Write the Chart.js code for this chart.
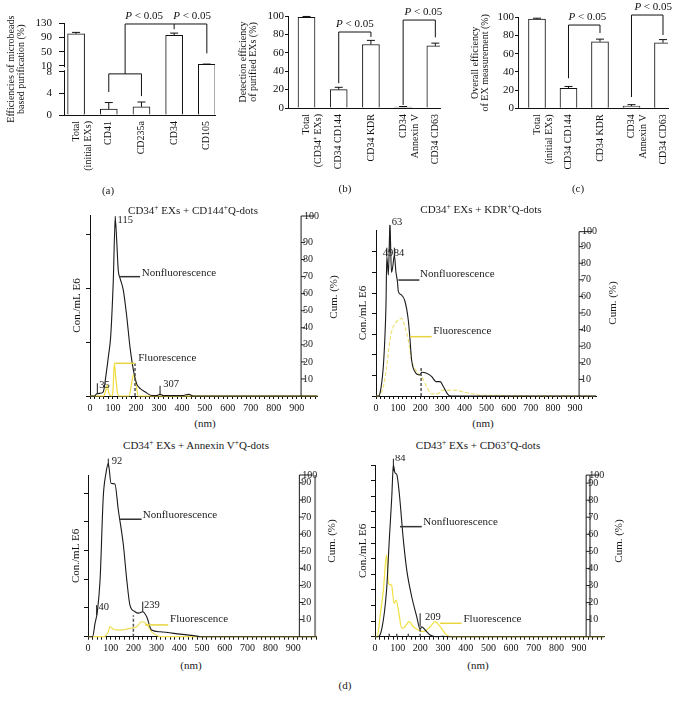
<!DOCTYPE html>
<html>
<head>
<meta charset="utf-8">
<title>EX purification and size distribution</title>
<script src="https://cdn.jsdelivr.net/npm/chart.js@4.4.1/dist/chart.umd.min.js"></script>
<style>
  html, body { margin: 0; padding: 0; background: #fff; }
  #wrap { position: relative; width: 695px; height: 708px; overflow: hidden;
          font-family: 'Liberation Serif', 'Times New Roman', serif; color: #1a1a1a; }
  #wrap canvas { position: absolute; }
  .note { position: absolute; white-space: nowrap; font-size: 11px; line-height: 1;
          transform: translate(-50%, -50%); }
  .note.rot { transform: translate(-50%, -50%) rotate(-90deg); }
  .note sup { font-size: 7.5px; line-height: 0; vertical-align: 4px; }
</style>
</head>
<body>
<div id="wrap"></div>
<script>
const FONT = "'Liberation Serif', 'Times New Roman', serif";
Chart.defaults.font.family = FONT;
Chart.defaults.color = '#111';

// ---- (a) microbead purification (broken y axis) ----
const aLabels = [['Total', '(initial EXs)'], 'CD41', 'CD235a', 'CD34', 'CD105'];
const aValues = [100.5, 1.1, 1.5, 96, 13.7];
const aErrors = [4, 1.2, 0.9, 6.5, 1];
const aTicks = [0, 4, 8, 10, 50, 90, 130];

// ---- (b) detection efficiency of purified EXs ----
const bLabels = [['Total', '(CD34⁺ EXs)'], 'CD34 CD144', 'CD34 KDR', ['CD34', 'Annexin V'], 'CD34 CD63'];
const bValues = [98.5, 20, 69, 1, 67.5];
const bErrors = [1, 2.5, 4.5, 0.6, 3];
const bTicks = [0, 20, 40, 60, 80, 100];

// ---- (c) overall efficiency of EX measurement ----
const cLabels = [['Total', '(initial EXs)'], 'CD34 CD144', 'CD34 KDR', ['CD34', 'Annexin V'], 'CD34 CD63'];
const cValues = [98, 22, 73, 2.5, 72];
const cErrors = [1, 2, 3, 1.5, 3.5];
const cTicks = [0, 20, 40, 60, 80, 100];

// ---- (d) size distributions: nm vs concentration ----
const tlNonNm = [0, 20, 29, 45, 58, 70, 80, 90, 101, 110, 116, 123, 131, 145, 160, 174, 189, 203, 218, 239, 269, 290, 305, 320, 400, 430, 450, 990];
const tlNon   = [0, 0, 0.04, 0.05, 0.08, 0.4, 0.73, 1.1, 2.09, 3.28, 2.9, 2.33, 2.18, 1.96, 1.47, 0.91, 0.48, 0.23, 0.14, 0.08, 0.01, 0.01, 0.03, 0.01, 0.01, 0.03, 0, 0];
const tlFluNm = [0, 60, 68, 75, 82, 95, 100, 106, 112, 118, 125, 170, 180, 189, 198, 210, 990];
const tlFlu   = [0, 0, 0.1, 0.2, 0.05, 0, 0.1, 0.6, 0.35, 0.1, 0, 0, 0.2, 0.39, 0.3, 0, 0];

const trNonNm = [0, 10, 18, 33, 40, 45, 49, 56, 63, 70, 76, 83, 90, 97, 101, 116, 131, 146, 154, 161, 176, 199, 206, 229, 252, 271, 290, 305, 327, 340, 995];
const trNon   = [0, 0, 0.13, 1.42, 2.8, 4.34, 6.78, 5.87, 8.3, 6.0, 6.3, 6.84, 6.03, 5.55, 5.08, 4.9, 4.6, 3.69, 2.72, 1.75, 1.18, 1.02, 1.15, 1.1, 0.94, 0.7, 0.7, 0.45, 0.05, 0, 0];
const trFluNm = [0, 5, 20, 33, 48, 63, 78, 101, 116, 131, 146, 161, 184, 206, 229, 252, 275, 305, 350, 395, 440, 486, 540, 600, 995];
const trFlu   = [0, 0, 0.1, 0.45, 1.42, 2.72, 3.36, 3.69, 3.77, 3.36, 2.72, 1.75, 1.18, 0.94, 0.45, 0.1, 0.1, 0.29, 0.29, 0.2, 0.1, 0.03, 0.03, 0.02, 0];

const blNonNm = [0, 20, 31, 41, 53, 67, 79, 89, 101, 118, 133, 155, 170, 184, 206, 221, 240, 257, 279, 316, 404, 477, 491, 1003];
const blNon   = [0, 0, 0.47, 0.87, 1.98, 4.88, 5.7, 6.04, 5.34, 5.32, 4.41, 3.2, 1.98, 1.1, 0.87, 0.82, 0.87, 0.7, 0.23, 0.17, 0.09, 0.02, 0, 0];
const blFluNm = [0, 70, 90, 96, 111, 140, 184, 213, 235, 257, 279, 300, 320, 1003];
const blFlu   = [0, 0, 0.2, 0.35, 0.26, 0.23, 0.29, 0.35, 0.52, 0.44, 0.17, 0.05, 0, 0];

const brNonNm = [0, 10, 29, 51, 63, 74, 81, 88, 96, 107, 125, 140, 162, 184, 199, 206, 221, 243, 272, 300, 320, 1011];
const brNon   = [0, 0, 0.43, 2.99, 6.2, 8.97, 11.0, 10.5, 10.4, 9.19, 6.2, 4.27, 2.56, 1.28, 0.47, 0.64, 0.43, 0.11, 0, 0.02, 0, 0];
const brFluNm = [0, 10, 22, 37, 51, 59, 73, 84, 93, 103, 118, 132, 150, 169, 191, 213, 243, 265, 287, 316, 340, 1011];
const brFlu   = [0, 0, 1.28, 3.0, 5.24, 3.42, 3.3, 2.14, 2.35, 1.71, 0.54, 0.64, 0.96, 0.64, 0.43, 0.32, 0.64, 0.96, 0.64, 0.1, 0, 0];

const wrap = document.getElementById('wrap');

// broken axis in (a): 0-8 lower part, 10-130 compressed upper part
const brk = v => (v <= 8 ? v : 9.11 + (v - 10) * 0.0652);
const same = v => v;

function addCanvas(rect) {
  const cv = document.createElement('canvas');
  cv.width = rect.w; cv.height = rect.h;
  cv.style.left = rect.x + 'px'; cv.style.top = rect.y + 'px';
  cv.style.width = rect.w + 'px'; cv.style.height = rect.h + 'px';
  wrap.appendChild(cv);
  return cv;
}

function padFor(rect, area) {
  return { left: 0, top: area.t - rect.y, right: rect.x + rect.w - area.r, bottom: 0 };
}

function barDecor(o) {
  return {
    id: 'barDecor',
    afterDatasetsDraw(chart) {
      const { ctx } = chart;
      const xs = chart.scales.x, ys = chart.scales.y;
      const px = v => xs.getPixelForValue(v), py = v => ys.getPixelForValue(o.tf(v));
      ctx.save();
      ctx.strokeStyle = '#111'; ctx.lineWidth = 1;
      o.values.forEach((v, i) => {
        const x = px(i), y0 = py(v), y1 = py(v + o.errors[i]);
        ctx.beginPath();
        ctx.moveTo(x, y0); ctx.lineTo(x, y1);
        ctx.moveTo(x - 4, y1); ctx.lineTo(x + 4, y1);
        ctx.stroke();
      });
      o.brackets.forEach(path => {
        ctx.beginPath();
        path.forEach(([bx, bv], j) => (j ? ctx.lineTo(px(bx), py(bv)) : ctx.moveTo(px(bx), py(bv))));
        ctx.stroke();
      });
      ctx.fillStyle = '#111'; ctx.textBaseline = 'bottom'; ctx.textAlign = 'left';
      const it = 'italic 11px ' + FONT, up = '11px ' + FONT;
      o.pLabels.forEach(([lx, lv]) => {
        ctx.font = it; const w1 = ctx.measureText('P').width;
        ctx.font = up; const w2 = ctx.measureText(' < 0.05').width;
        const x = px(lx) - (w1 + w2) / 2, y = py(lv) - 2;
        ctx.font = it; ctx.fillText('P', x, y);
        ctx.font = up; ctx.fillText(' < 0.05', x + w1, y);
      });
      if (o.gap) {
        const yTop = py(o.gap[1]), yBot = py(o.gap[0]);
        ctx.fillStyle = '#fff';
        ctx.fillRect(chart.chartArea.left - 2, yTop + 1.5, 4, yBot - yTop - 3);
      }
      ctx.restore();
    }
  };
}

function barChart(o) {
  const { rect, area } = o;
  const cv = addCanvas(rect);
  return new Chart(cv, {
    type: 'bar',
    data: {
      datasets: [{
        data: o.values.map((v, i) => ({ x: i, y: o.tf(v) })),
        backgroundColor: '#fff', borderColor: '#111', borderWidth: 1, barThickness: 17
      }]
    },
    options: {
      responsive: false, animation: false,
      layout: { padding: padFor(rect, area) },
      plugins: { legend: { display: false }, tooltip: { enabled: false } },
      scales: {
        x: {
          type: 'linear', min: o.xMin, max: o.xMax, offset: false,
          afterBuildTicks: s => { s.ticks = o.labels.map((_, i) => ({ value: i })); },
          afterFit: s => { s.height = rect.y + rect.h - area.b; },
          grid: { display: false, drawTicks: false },
          border: { color: '#111' },
          ticks: { autoSkip: false, minRotation: 90, maxRotation: 90, padding: 6,
                   font: { size: 10 }, color: '#111', callback: v => o.labels[v] }
        },
        y: {
          min: 0, max: o.yMax,
          afterBuildTicks: s => { s.ticks = o.ticks.map(v => ({ value: o.tf(v) })); },
          afterFit: s => { s.width = area.l - rect.x; },
          grid: { drawOnChartArea: false, tickLength: o.tickLen, color: '#111' },
          border: { color: '#111' },
          ticks: { autoSkip: false, padding: o.tickPad, font: { size: 11 }, color: '#111',
                   callback: (v, i) => o.ticks[i] },
          title: { display: true, text: o.title, color: '#111',
                   font: { size: 10, lineHeight: 1 }, padding: { top: o.titlePad, bottom: 0 } }
        }
      }
    },
    plugins: [barDecor(o)]
  });
}

barChart({
  rect: { x: 0, y: 0, w: 240, h: 200 }, area: { l: 64, t: 23.4, r: 215, b: 115 },
  labels: aLabels, values: aValues, errors: aErrors, ticks: aTicks, tf: brk, yMax: brk(130),
  xMin: -0.37, xMax: 4.25, tickLen: 5, tickPad: 7, titlePad: 6.7,
  title: ['Efficiencies of microbeads', 'based purification (%)'],
  brackets: [
    [[1, 4.25], [1, 7.6], [2, 7.6], [2, 3.5]],
    [[1.5, 7.6], [1.5, 128.3], [4, 128.3], [4, 45]],
    [[3, 128.3], [3, 113.6]]
  ],
  pLabels: [[2.08, 128.3], [3.55, 128.3]],
  gap: [8, 10]
});

barChart({
  rect: { x: 230, y: 0, w: 230, h: 200 }, area: { l: 288, t: 16, r: 440, b: 108 },
  labels: bLabels, values: bValues, errors: bErrors, ticks: bTicks, tf: same, yMax: 100,
  xMin: -0.575, xMax: 4.145, tickLen: 3, tickPad: 1, titlePad: 8.3,
  title: ['Detection efficiency', 'of purified EXs (%)'],
  brackets: [
    [[1, 27], [1, 82.6], [2, 82.6], [2, 77.2]],
    [[3, 3.3], [3, 95.6], [4, 95.6], [4, 76.8]]
  ],
  pLabels: [[1.5, 82.6], [3.63, 95.6]]
});

barChart({
  rect: { x: 460, y: 0, w: 235, h: 200 }, area: { l: 518, t: 17.3, r: 668, b: 108.3 },
  labels: cLabels, values: cValues, errors: cErrors, ticks: cTicks, tf: same, yMax: 100,
  xMin: -0.603, xMax: 4.159, tickLen: 3, tickPad: 1, titlePad: 10,
  title: ['Overall efficiency', 'of EX measurement (%)'],
  brackets: [
    [[1, 33], [1, 91.5], [2, 91.5], [2, 82.7]],
    [[3, 12.4], [3, 102.5], [4, 102.5], [4, 80.5]]
  ],
  pLabels: [[1.6, 91.5], [3.69, 102.5]]
});

function sizeDecor(o) {
  return {
    id: 'sizeDecor',
    afterDatasetsDraw(chart) {
      const { ctx } = chart;
      const xs = chart.scales.x, ys = chart.scales.y, y2 = chart.scales.y2;
      const px = v => xs.getPixelForValue(v), py = v => ys.getPixelForValue(v);
      const seg = (x0, y0, x1, y1) => { ctx.beginPath(); ctx.moveTo(x0, y0); ctx.lineTo(x1, y1); ctx.stroke(); };
      ctx.save();
      ctx.textAlign = 'left'; ctx.textBaseline = 'middle';
      ctx.strokeStyle = '#555'; ctx.lineWidth = 1.5; ctx.setLineDash([3, 2]);
      o.dashes.forEach(d => seg(px(d[0]), py(0), px(d[0]), py(d[1])));
      ctx.setLineDash([]);
      ctx.fillStyle = '#1a1a1a';
      ctx.strokeStyle = '#1a1a1a'; ctx.lineWidth = 1;
      ctx.font = '10.5px ' + FONT;
      o.peaks.forEach(p => {
        seg(px(p.nm), py(p.v0), px(p.nm), py(p.v1));
        ctx.fillText(p.text, px(p.tnm), py(p.tv));
      });
      ctx.font = '11px ' + FONT;
      o.pointers.forEach(p => {
        ctx.strokeStyle = p.color; ctx.lineWidth = 1.5;
        seg(px(p.nm0), py(p.v), px(p.nm1), py(p.v));
        ctx.fillText(p.text, px(p.tnm), py(p.tv));
      });
      // cumulative (%) axis standing inside the nm range
      const cx = px(o.cumNm), cb = y2.getPixelForValue(0), ct = y2.getPixelForValue(o.cumTop);
      ctx.strokeStyle = '#1a1a1a'; ctx.lineWidth = 1;
      seg(cx, cb, cx, ct); seg(cx, ct, cx + 13, ct);
      ctx.font = '10px ' + FONT;
      for (let v = 10; v <= 90; v += 10) {
        const y = y2.getPixelForValue(v);
        seg(cx, y, cx + 4, y);
        ctx.fillText(String(v), cx + 2, y);
      }
      ctx.fillText('100', cx + 3, ct);
      ctx.restore();
    }
  };
}

function sizeChart(o) {
  const { rect, area } = o;
  const cv = addCanvas(rect);
  const datasets = [
    { data: o.nonNm.map((x, i) => ({ x, y: o.non[i] })), borderColor: '#1a1a1a', borderWidth: 1.1 },
    { data: o.fluNm.map((x, i) => ({ x, y: o.flu[i] })), borderColor: o.fluColor, borderWidth: 1.2, borderDash: o.fluDash }
  ];
  if (o.cumLine) {
    datasets.push({ yAxisID: 'y2', data: [{ x: o.cumLine, y: 0 }, { x: o.cumLine, y: o.cumTop }],
                    borderColor: '#8a8a8a', borderWidth: 2 });
  }
  return new Chart(cv, {
    type: 'line',
    data: { datasets },
    options: {
      responsive: false, animation: false,
      layout: { padding: padFor(rect, area) },
      datasets: { line: { clip: false, pointRadius: 0, cubicInterpolationMode: 'monotone' } },
      plugins: { legend: { display: false }, tooltip: { enabled: false } },
      scales: {
        x: {
          type: 'linear', min: 0, max: o.xMax,
          afterBuildTicks: s => {
            const t = [];
            for (let v = 0; v <= o.xMax; v += 20) t.push({ value: v });
            s.ticks = t;
          },
          afterFit: s => { s.height = rect.y + rect.h - area.b; },
          grid: { drawOnChartArea: false, tickLength: 3, color: '#111' },
          border: { color: '#111' },
          ticks: { autoSkip: false, maxRotation: 0, padding: 3, font: { size: 10 }, color: '#111',
                   callback: v => (v % 100 === 0 && v <= 900 ? String(v) : '') }
        },
        y: {
          min: 0, max: o.yMax,
          afterBuildTicks: s => { s.ticks = s.ticks.filter(t => Number.isInteger(t.value)); },
          afterFit: s => { s.width = area.l - rect.x; },
          grid: { drawOnChartArea: false, tickLength: 4, color: '#111' },
          border: { color: '#111' },
          ticks: { display: false, stepSize: 1 },
          title: { display: true, text: 'Con./mL E6', color: '#111', font: { size: 11 },
                   padding: { top: o.titlePad, bottom: 0 } }
        },
        y2: { display: false, position: 'right', min: 0, max: o.cumMax }
      }
    },
    plugins: [sizeDecor(o)]
  });
}

const DARK = '#333';
const YEL = '#e8d440';

sizeChart({
  rect: { x: 60, y: 200, w: 285, h: 216 }, area: { l: 90, t: 215, r: 317.4, b: 396 },
  xMax: 990, yMax: 3.352, titlePad: 10.4,
  nonNm: tlNonNm, non: tlNon, fluNm: tlFluNm, flu: tlFlu, fluColor: '#f0dc3c', fluDash: [],
  cumNm: 919, cumMax: 106.1, cumTop: 105.5,
  peaks: [
    { nm: 110, v0: 3.12, v1: 3.33, text: '115', tnm: 120, tv: 3.25 },
    { nm: 32, v0: 0.05, v1: 0.235, text: '35', tnm: 40, tv: 0.2 },
    { nm: 305, v0: 0.02, v1: 0.19, text: '307', tnm: 319, tv: 0.22 }
  ],
  pointers: [
    { nm0: 131, nm1: 218, v: 2.21, color: DARK, text: 'Nonfluorescence', tnm: 225, tv: 2.28 },
    { nm0: 106, nm1: 196, v: 0.605, color: YEL, text: 'Fluorescence', tnm: 210, tv: 0.7 }
  ],
  dashes: [[196, 0.6]]
});

sizeChart({
  rect: { x: 345, y: 200, w: 285, h: 216 }, area: { l: 376, t: 230, r: 596, b: 396 },
  xMax: 995, yMax: 8.06, titlePad: 11.7,
  nonNm: trNonNm, non: trNon, fluNm: trFluNm, flu: trFlu, fluColor: '#eee17a', fluDash: [4, 2],
  cumNm: 918.5, cumMax: 100, cumTop: 99,
  peaks: [
    { nm: 63, v0: 7.0, v1: 8.3, text: '63', tnm: 71, tv: 8.46 },
    { nm: 49, v0: 6.78, v1: 7.2, text: '49', tnm: 30, tv: 6.93 },
    { nm: 83, v0: 6.84, v1: 7.2, text: '84', tnm: 80, tv: 6.93 }
  ],
  pointers: [
    { nm0: 101, nm1: 196, v: 5.63, color: DARK, text: 'Nonfluorescence', tnm: 199, tv: 5.92 },
    { nm0: 154, nm1: 252, v: 2.88, color: YEL, text: 'Fluorescence', tnm: 259, tv: 3.17 }
  ],
  dashes: [[204, 1.42]]
});

sizeChart({
  rect: { x: 60, y: 455, w: 285, h: 200 }, area: { l: 88, t: 475, r: 316.7, b: 636.7 },
  xMax: 1003, yMax: 5.63, titlePad: 9.4,
  nonNm: blNonNm, non: blNon, fluNm: blFluNm, flu: blFlu, fluColor: '#eedd55', fluDash: [],
  cumNm: 927, cumMax: 94.6, cumTop: 94.6, cumLine: 996,
  peaks: [
    { nm: 89, v0: 5.9, v1: 6.2, text: '92', tnm: 104, tv: 6.1 },
    { nm: 38, v0: 0.75, v1: 1.1, text: '40', tnm: 46, tv: 1.01 },
    { nm: 240, v0: 0.87, v1: 1.22, text: '239', tnm: 246, tv: 1.1 }
  ],
  pointers: [
    { nm0: 137, nm1: 235, v: 4.09, color: DARK, text: 'Nonfluorescence', tnm: 240, tv: 4.24 },
    { nm0: 250, nm1: 352, v: 0.41, color: YEL, text: 'Fluorescence', tnm: 360, tv: 0.6 }
  ],
  dashes: [[199, 0.75]]
});

sizeChart({
  rect: { x: 345, y: 455, w: 285, h: 200 }, area: { l: 375, t: 465, r: 604.3, b: 636.7 },
  xMax: 1011, yMax: 11.0, titlePad: 11.1,
  nonNm: brNonNm, non: brNon, fluNm: brFluNm, flu: brFlu, fluColor: '#f0e040', fluDash: [],
  cumNm: 931, cumMax: 100.6, cumTop: 94.7, cumLine: 948,
  peaks: [
    { nm: 81, v0: 10.6, v1: 11.4, text: '84', tnm: 88, tv: 11.45 },
    { nm: 199, v0: 0.64, v1: 1.5, text: '209', tnm: 220, tv: 1.24 }
  ],
  pointers: [
    { nm0: 110, nm1: 206, v: 7.05, color: DARK, text: 'Nonfluorescence', tnm: 213, tv: 7.37 },
    { nm0: 287, nm1: 382, v: 0.86, color: YEL, text: 'Fluorescence', tnm: 390, tv: 1.12 }
  ],
  dashes: [[63, 0.25], [96, 0.25], [147, 0.25], [199, 0.5]]
});

// free text: panel letters, plot titles, axis captions
const notes = [
  ['(a)', 108, 190, false], ['(b)', 345, 188, false], ['(c)', 578, 188, false], ['(d)', 345, 685, false],
  ['CD34<sup>+</sup> EXs + CD144<sup>+</sup>Q-dots', 193, 210, false],
  ['CD34<sup>+</sup> EXs + KDR<sup>+</sup>Q-dots', 481, 209, false],
  ['CD34<sup>+</sup> EXs + Annexin V<sup>+</sup>Q-dots', 196, 445, false],
  ['CD43<sup>+</sup> EXs + CD63<sup>+</sup>Q-dots', 478, 445, false],
  ['(nm)', 205, 423, false], ['(nm)', 483, 423, false], ['(nm)', 191, 665, false], ['(nm)', 478, 665, false],
  ['Cum. (%)', 333, 297, true], ['Cum. (%)', 612, 303, true], ['Cum. (%)', 331, 541, true], ['Cum. (%)', 618, 541, true]
];
notes.forEach(([html, x, y, rot]) => {
  const d = document.createElement('div');
  d.className = rot ? 'note rot' : 'note';
  d.innerHTML = html;
  d.style.left = x + 'px'; d.style.top = y + 'px';
  wrap.appendChild(d);
});
</script>
</body>
</html>
